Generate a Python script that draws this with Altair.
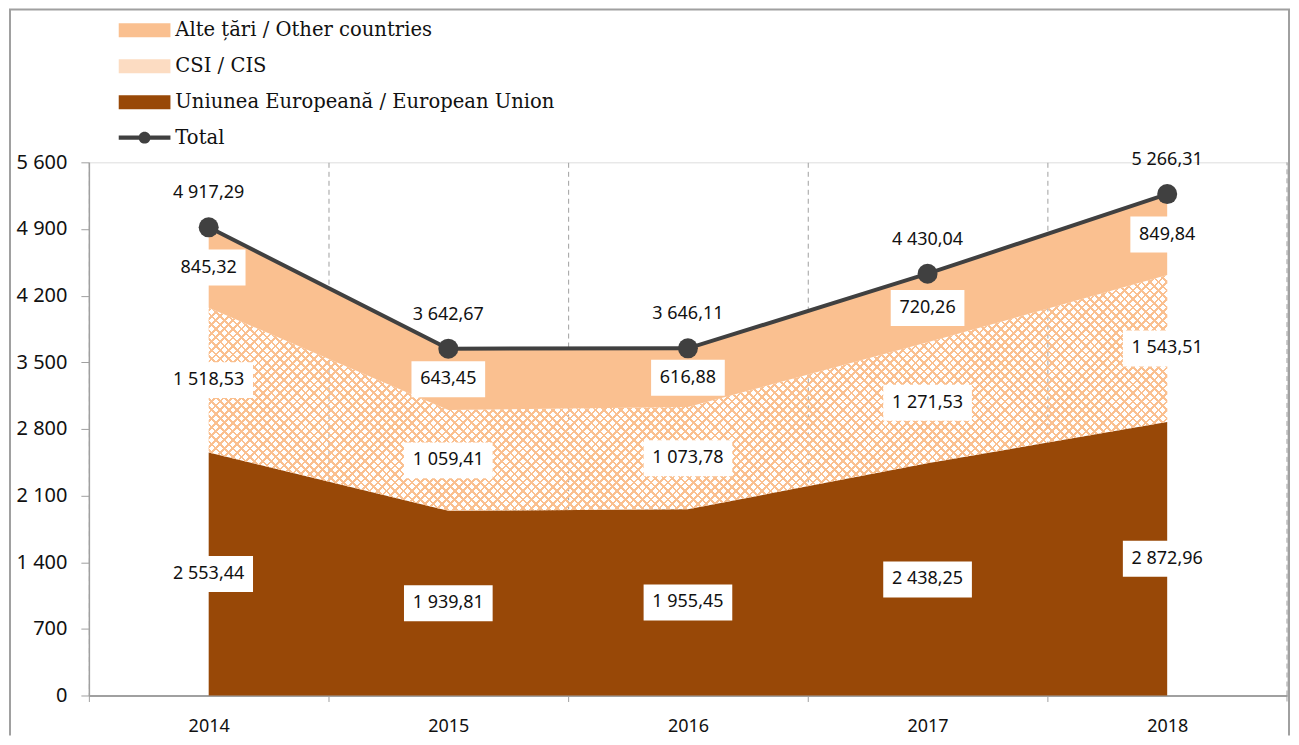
import altair as alt
import pandas as pd

# ---------------- data ----------------
years = [2014, 2015, 2016, 2017, 2018]
eu = [2553.44, 1939.81, 1955.45, 2438.25, 2872.96]
cis = [1518.53, 1059.41, 1073.78, 1271.53, 1543.51]
other = [845.32, 643.45, 616.88, 720.26, 849.84]
total = [4917.29, 3642.67, 3646.11, 4430.04, 5266.31]

name_other = "Alte țări /  Other countries"
name_cis = "CSI /  CIS"
name_eu = "Uniunea Europeană / European Union"
name_total = "Total"

y_ticks = [0, 700, 1400, 2100, 2800, 3500, 4200, 4900, 5600]
x_bounds = [2013.5, 2014.5, 2015.5, 2016.5, 2017.5, 2018.5]

# ---------------- styles ----------------
C_EU = "#984807"
C_OTHER = "#fac090"
C_CIS_LEG = "#fcdcc2"
C_TOTAL = "#404040"
C_AXIS = "#a0a0a0"
NUM_FONT = "Noto Sans"
LEG_FONT = "DejaVu Serif"


def fmt(v):
    return f"{v:,.2f}".replace(",", " ").replace(".", ",")


def box_path(s):
    w = sum(10.2 if c.isdigit() else 4.8 for c in s) + 18
    hw = w / 2 / 50
    hh = 18 / 50
    return f"M{-hw:.3f},{-hh:.3f}L{hw:.3f},{-hh:.3f}L{hw:.3f},{hh:.3f}L{-hw:.3f},{hh:.3f}Z"


bands = []
labels = []
for i, yr in enumerate(years):
    b0, b1, b2, b3 = 0, eu[i], eu[i] + cis[i], eu[i] + cis[i] + other[i]
    bands.append({"year": yr, "series": name_eu, "lo": b0, "hi": b1})
    bands.append({"year": yr, "series": name_cis, "lo": b1, "hi": b2})
    bands.append({"year": yr, "series": name_other, "lo": b2, "hi": b3})
    for v, mid in ((eu[i], b0 + eu[i] / 2), (cis[i], b1 + cis[i] / 2), (other[i], b2 + other[i] / 2)):
        s = fmt(v)
        labels.append({"year": yr, "mid": mid, "label": s, "shape": box_path(s)})

df_bands = pd.DataFrame(bands)
df_solid = df_bands[df_bands.series != name_cis]
df_cis = df_bands[df_bands.series == name_cis]
df_labels = pd.DataFrame(labels)
df_total = pd.DataFrame({"year": years, "total": total,
                         "label": [fmt(v) for v in total],
                         "tot": [name_total] * len(years)})
df_last = pd.DataFrame({"b": x_bounds[-1:], "lo": [y_ticks[0]], "hi": [y_ticks[-1]]})


def stripes(x1, y1, x2, y2, n=140, w=0.32):
    clear = "rgba(250,192,144,0)"
    stops = []
    for k in range(n):
        a, b, c = k / n, (k + w) / n, (k + 1) / n
        stops += [{"offset": a, "color": C_OTHER}, {"offset": b, "color": C_OTHER},
                  {"offset": b, "color": clear}, {"offset": c, "color": clear}]
    return {"gradient": "linear", "x1": x1, "y1": y1, "x2": x2, "y2": y2, "stops": stops}


xscale = alt.Scale(domain=[2013.5, 2018.5], nice=False, zero=False)
yscale = alt.Scale(domain=[0, 5600], nice=False)

xaxis = alt.Axis(values=x_bounds[:-1], title=None, grid=True, gridDash=[5, 4], gridColor=C_AXIS,
                 gridWidth=1, tickSize=6, tickColor=C_AXIS, domainColor=C_AXIS, domainWidth=2,
                 labelExpr="format(datum.value + 0.5, 'd')",
                 labelOffset=120, labelFlush=False, labelOverlap=False, labelBound=False,
                 labelPadding=16, labelFont=NUM_FONT, labelFontSize=18, labelColor="#111111")
yaxis = alt.Axis(values=y_ticks, title=None, grid=False, tickSize=8, tickColor=C_AXIS,
                 domainColor=C_AXIS, domainWidth=1.5,
                 labelExpr="replace(format(datum.value, ','), ',', ' ')",
                 labelPadding=14, labelFont=NUM_FONT, labelFontSize=20, labelColor="#111111")

X = alt.X("year:Q", scale=xscale, axis=xaxis)

# legend swatches: nominal symbol size 14px, path drawn wider (52 x 14)
rect_sym = "M-3.7,-1L3.7,-1L3.7,1L-3.7,1Z"
tot_sym = ("M-3.7,-0.3L3.7,-0.3L3.7,0.3L-3.7,0.3Z "
           "M0.85,0A0.85,0.85,0,1,1,-0.85,0A0.85,0.85,0,1,1,0.85,0Z")

leg_common = dict(orient="none", title=None, symbolSize=196, symbolStrokeWidth=0,
                  labelFont=LEG_FONT, labelFontSize=19.6, labelColor="#111111",
                  labelOffset=21, padding=0, labelLimit=600)

areas = alt.Chart(df_solid).mark_area(opacity=1).encode(
    x=X,
    y=alt.Y("lo:Q", scale=yscale, axis=yaxis, stack=None),
    y2="hi:Q",
    color=alt.Color("series:N",
                    scale=alt.Scale(domain=[name_other, name_cis, name_eu],
                                    range=[C_OTHER, C_CIS_LEG, C_EU]),
                    legend=alt.Legend(legendX=46, legendY=-142, symbolType=rect_sym,
                                      rowPadding=15, **leg_common)),
)

cis_a = alt.Chart(df_cis).mark_area(fill=stripes(0, 0, 1.175, 0.289)).encode(
    x=X, y=alt.Y("lo:Q", scale=yscale, axis=yaxis, stack=None), y2="hi:Q")
cis_b = alt.Chart(df_cis).mark_area(fill=stripes(0, 1, 1.175, 0.711)).encode(
    x=X, y=alt.Y("lo:Q", scale=yscale, axis=yaxis, stack=None), y2="hi:Q")

# last category boundary: dashed gridline and tick (kept off the axis so no empty label widens it)
last_grid = alt.Chart(df_last).mark_rule(color=C_AXIS, strokeWidth=1, strokeDash=[5, 4]).encode(
    x=alt.X("b:Q", scale=xscale, axis=xaxis),
    y=alt.Y("lo:Q", scale=yscale, axis=yaxis), y2="hi:Q")
last_tick = alt.Chart(df_last).mark_rule(color=C_AXIS, strokeWidth=1).encode(
    x=alt.X("b:Q", scale=xscale, axis=xaxis),
    y=alt.value(534), y2=alt.value(540))

boxes = alt.Chart(df_labels).mark_point(filled=True, size=10000, opacity=1, color="white",
                                        strokeWidth=0).encode(
    x=X, y=alt.Y("mid:Q", scale=yscale, axis=yaxis),
    shape=alt.Shape("shape:N", scale=None))

texts = alt.Chart(df_labels).mark_text(font=NUM_FONT, fontSize=18, color="#111111",
                                       baseline="middle", align="center").encode(
    x=X, y=alt.Y("mid:Q", scale=yscale, axis=yaxis), text="label:N")

line = alt.Chart(df_total).mark_line(color=C_TOTAL, strokeWidth=4).encode(
    x=X, y=alt.Y("total:Q", scale=yscale, axis=yaxis))

points = alt.Chart(df_total).mark_point(filled=True, size=400, opacity=1, strokeWidth=0).encode(
    x=X, y=alt.Y("total:Q", scale=yscale, axis=yaxis),
    fill=alt.Fill("tot:N", scale=alt.Scale(domain=[name_total], range=[C_TOTAL]),
                  legend=alt.Legend(legendX=46, legendY=-34.5, symbolType=tot_sym, **leg_common)))

tot_text = alt.Chart(df_total).mark_text(font=NUM_FONT, fontSize=18, color="#111111",
                                         baseline="middle", align="center", dy=-34).encode(
    x=X, y=alt.Y("total:Q", scale=yscale, axis=yaxis), text="label:N")

frame_df = pd.DataFrame({"k": [0]})
frame_left = alt.Chart(frame_df).mark_rule(color=C_AXIS, strokeWidth=2).encode(
    x=alt.value(-79), y=alt.value(-153), y2=alt.value(574))
frame_right = alt.Chart(frame_df).mark_rule(color=C_AXIS, strokeWidth=2).encode(
    x=alt.value(1202), y=alt.value(-153), y2=alt.value(574))
frame_top = alt.Chart(frame_df).mark_rule(color=C_AXIS, strokeWidth=2).encode(
    x=alt.value(-80), x2=alt.value(1203), y=alt.value(-153))

chart = alt.layer(
    last_grid, areas, cis_a, cis_b, last_tick, boxes, texts, line, points, tot_text,
    frame_left, frame_right, frame_top
).properties(width=1200, height=534, padding=0).configure_view(stroke=None).configure(
    background="white")

chart.save("out.html", embed_options={"renderer": "svg", "actions": False})
